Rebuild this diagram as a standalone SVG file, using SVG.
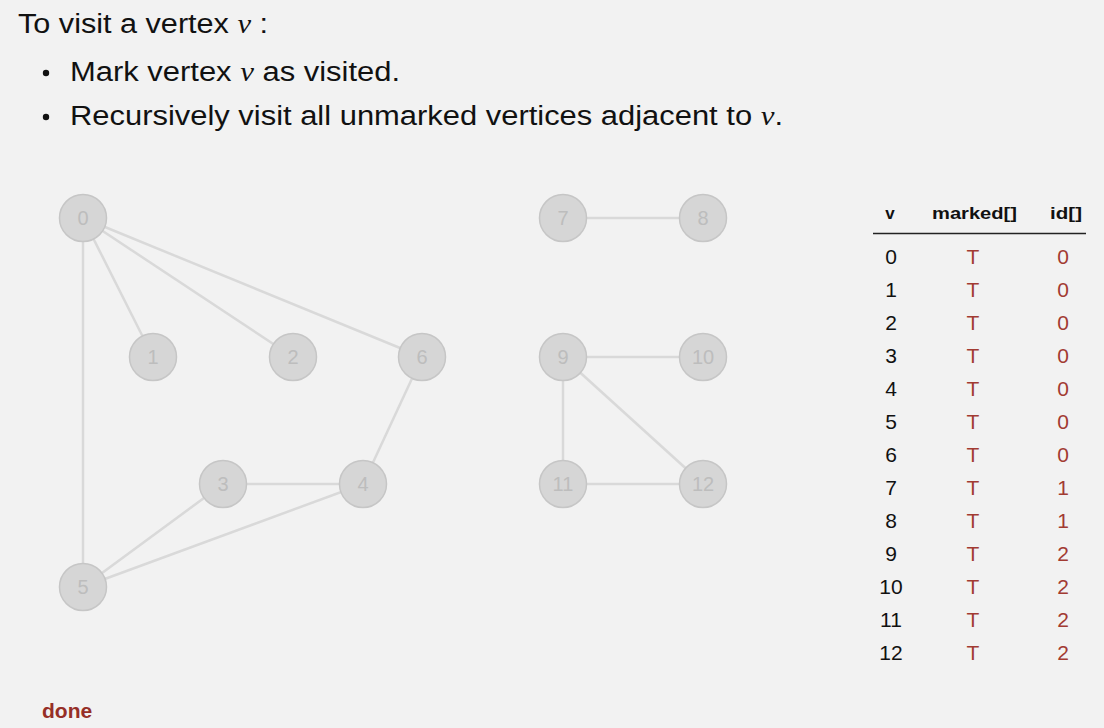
<svg xmlns="http://www.w3.org/2000/svg" width="1104" height="728" viewBox="0 0 1104 728">
<style>
.t{font-family:"Liberation Sans",Arial,sans-serif;fill:#111;font-size:27px}
.it{font-family:"Liberation Serif","Times New Roman",serif;font-style:italic}
.e line{stroke:#d9d9d9;stroke-width:2.5}
.n circle{fill:#d6d6d6;stroke:#c6c6c6;stroke-width:1.5}
.n text{font-family:"Liberation Sans",Arial,sans-serif;font-size:20px;fill:#bdbdbd;text-anchor:middle}
.h{font-family:"Liberation Sans",Arial,sans-serif;font-size:17px;font-weight:bold;fill:#111;text-anchor:middle}
.c{font-family:"Liberation Sans",Arial,sans-serif;font-size:21px;text-anchor:middle}
.k{fill:#111}
.r{fill:#a23b32}
</style>
<rect width="1104" height="728" fill="#f2f2f2"/>
<text class="t" x="18" y="33" textLength="250" lengthAdjust="spacingAndGlyphs">To visit a vertex <tspan class="it">v</tspan> :</text>
<circle cx="46" cy="73" r="3.2" fill="#111"/>
<text class="t" x="70" y="81" textLength="330" lengthAdjust="spacingAndGlyphs">Mark vertex <tspan class="it">v</tspan> as visited.</text>
<circle cx="46" cy="117" r="3.2" fill="#111"/>
<text class="t" x="70" y="125" textLength="713" lengthAdjust="spacingAndGlyphs">Recursively visit all unmarked vertices adjacent to <tspan class="it">v</tspan>.</text>
<g id="edges" class="e">
<line x1="83" y1="218" x2="153" y2="357"/>
<line x1="83" y1="218" x2="293" y2="357"/>
<line x1="83" y1="218" x2="422" y2="357"/>
<line x1="83" y1="218" x2="83" y2="587"/>
<line x1="422" y1="357" x2="363" y2="484"/>
<line x1="223" y1="484" x2="363" y2="484"/>
<line x1="223" y1="484" x2="83" y2="587"/>
<line x1="363" y1="484" x2="83" y2="587"/>
<line x1="563" y1="218" x2="703" y2="218"/>
<line x1="563" y1="357" x2="703" y2="357"/>
<line x1="563" y1="357" x2="563" y2="484"/>
<line x1="563" y1="357" x2="703" y2="484"/>
<line x1="563" y1="484" x2="703" y2="484"/>
</g>
<g id="node0" class="n"><circle cx="83" cy="218" r="23.5"/><text x="83" y="225">0</text></g>
<g id="node1" class="n"><circle cx="153" cy="357" r="23.5"/><text x="153" y="364">1</text></g>
<g id="node2" class="n"><circle cx="293" cy="357" r="23.5"/><text x="293" y="364">2</text></g>
<g id="node3" class="n"><circle cx="223" cy="484" r="23.5"/><text x="223" y="491">3</text></g>
<g id="node4" class="n"><circle cx="363" cy="484" r="23.5"/><text x="363" y="491">4</text></g>
<g id="node5" class="n"><circle cx="83" cy="587" r="23.5"/><text x="83" y="594">5</text></g>
<g id="node6" class="n"><circle cx="422" cy="357" r="23.5"/><text x="422" y="364">6</text></g>
<g id="node7" class="n"><circle cx="563" cy="218" r="23.5"/><text x="563" y="225">7</text></g>
<g id="node8" class="n"><circle cx="703" cy="218" r="23.5"/><text x="703" y="225">8</text></g>
<g id="node9" class="n"><circle cx="563" cy="357" r="23.5"/><text x="563" y="364">9</text></g>
<g id="node10" class="n"><circle cx="703" cy="357" r="23.5"/><text x="703" y="364">10</text></g>
<g id="node11" class="n"><circle cx="563" cy="484" r="23.5"/><text x="563" y="491">11</text></g>
<g id="node12" class="n"><circle cx="703" cy="484" r="23.5"/><text x="703" y="491">12</text></g>
<g id="table">
<text class="h" x="890" y="219">v</text>
<text class="h" x="974.5" y="219" textLength="85" lengthAdjust="spacingAndGlyphs">marked[]</text>
<text class="h" x="1066" y="219" textLength="32" lengthAdjust="spacingAndGlyphs">id[]</text>
<line x1="873" y1="233.5" x2="1086" y2="233.5" stroke="#222" stroke-width="1.5"/>
<g class="c">
<text class="k" x="891" y="264">0</text><text class="r" x="973" y="264">T</text><text class="r" x="1063" y="264">0</text>
<text class="k" x="891" y="297">1</text><text class="r" x="973" y="297">T</text><text class="r" x="1063" y="297">0</text>
<text class="k" x="891" y="330">2</text><text class="r" x="973" y="330">T</text><text class="r" x="1063" y="330">0</text>
<text class="k" x="891" y="363">3</text><text class="r" x="973" y="363">T</text><text class="r" x="1063" y="363">0</text>
<text class="k" x="891" y="396">4</text><text class="r" x="973" y="396">T</text><text class="r" x="1063" y="396">0</text>
<text class="k" x="891" y="429">5</text><text class="r" x="973" y="429">T</text><text class="r" x="1063" y="429">0</text>
<text class="k" x="891" y="462">6</text><text class="r" x="973" y="462">T</text><text class="r" x="1063" y="462">0</text>
<text class="k" x="891" y="495">7</text><text class="r" x="973" y="495">T</text><text class="r" x="1063" y="495">1</text>
<text class="k" x="891" y="528">8</text><text class="r" x="973" y="528">T</text><text class="r" x="1063" y="528">1</text>
<text class="k" x="891" y="561">9</text><text class="r" x="973" y="561">T</text><text class="r" x="1063" y="561">2</text>
<text class="k" x="891" y="594">10</text><text class="r" x="973" y="594">T</text><text class="r" x="1063" y="594">2</text>
<text class="k" x="891" y="627">11</text><text class="r" x="973" y="627">T</text><text class="r" x="1063" y="627">2</text>
<text class="k" x="891" y="660">12</text><text class="r" x="973" y="660">T</text><text class="r" x="1063" y="660">2</text>
</g>
</g>
<text x="42" y="718" font-family="Liberation Sans,Arial,sans-serif" font-size="21" font-weight="bold" fill="#962f27">done</text>
</svg>
